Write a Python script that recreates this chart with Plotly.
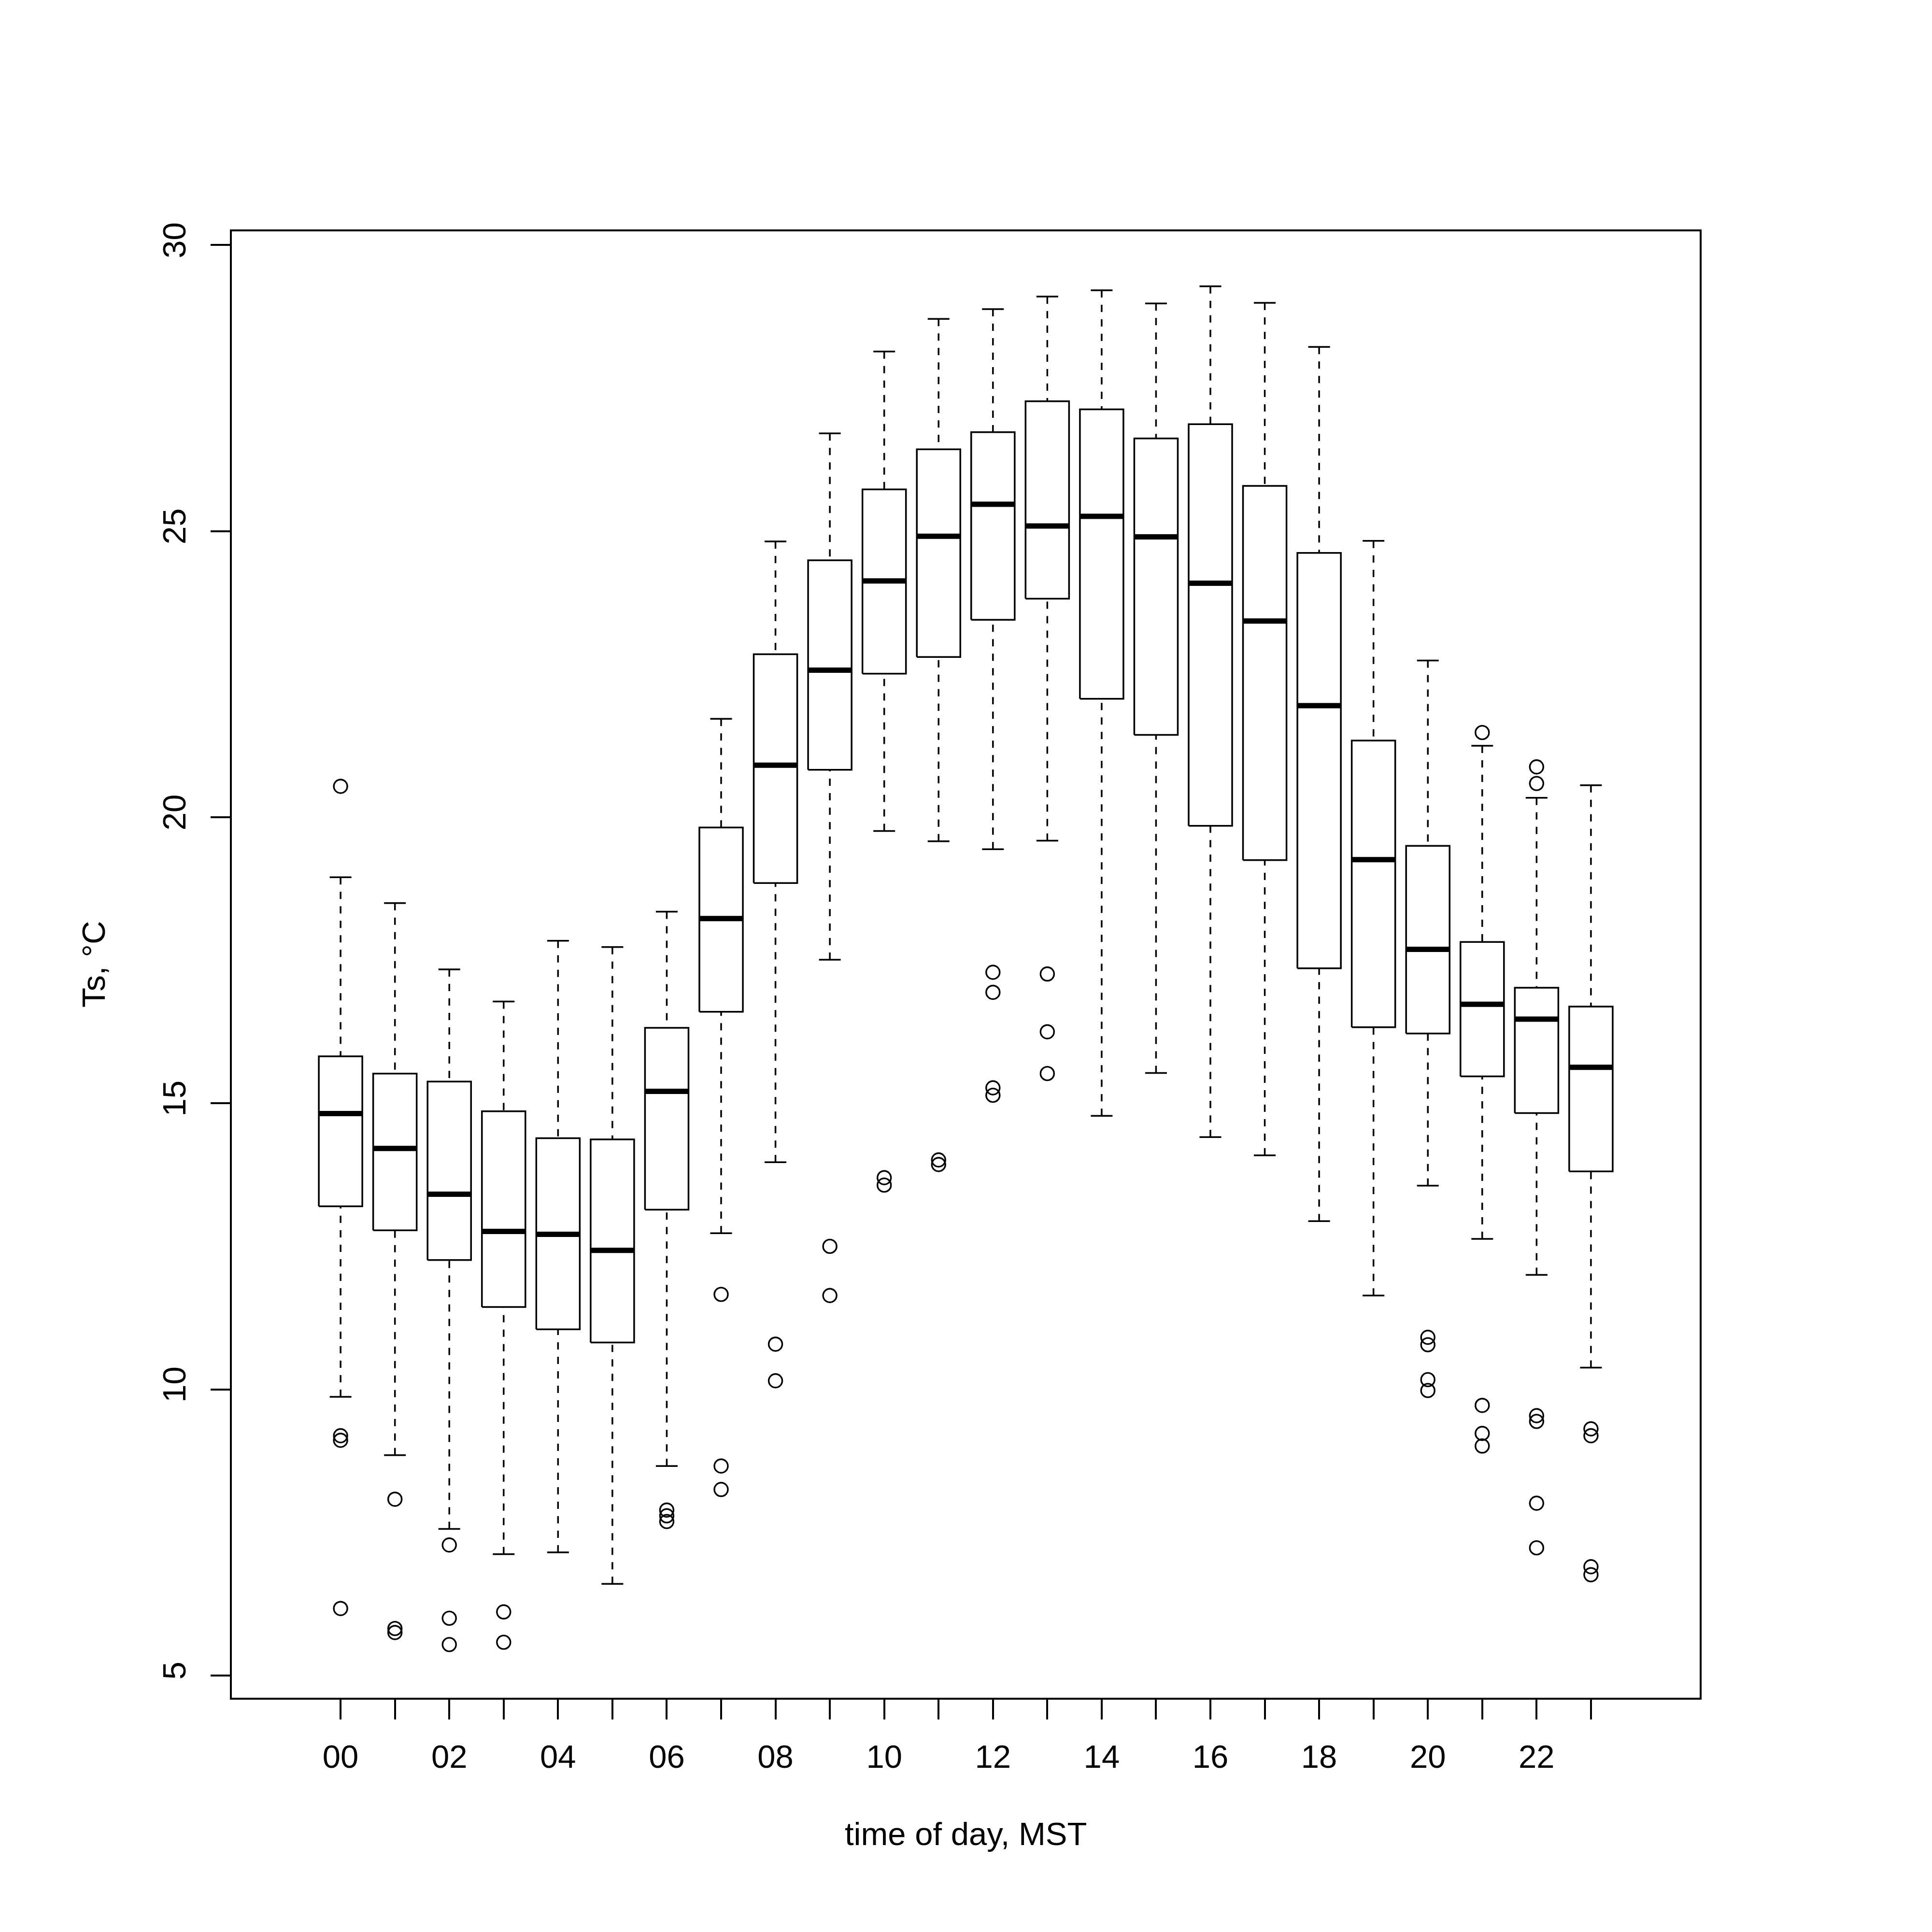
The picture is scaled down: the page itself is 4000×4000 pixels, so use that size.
import plotly.graph_objects as go

hours = ["00", "01", "02", "03", "04", "05", "06", "07", "08", "09", "10", "11",
         "12", "13", "14", "15", "16", "17", "18", "19", "20", "21", "22", "23"]

lower = [9.87, 8.85, 7.56, 7.12, 7.15, 6.60, 8.66, 12.73, 13.97, 17.51, 19.76, 19.58,
         19.44, 19.59, 14.78, 15.53, 14.41, 14.09, 12.94, 11.64, 13.56, 12.63, 12.00, 10.38]
q1 = [13.20, 12.78, 12.26, 11.44, 11.05, 10.82, 13.14, 16.60, 18.85, 20.83, 22.51, 22.80,
      23.45, 23.82, 22.07, 21.44, 19.85, 19.25, 17.36, 16.33, 16.22, 15.47, 14.83, 13.81]
median = [14.82, 14.21, 13.41, 12.76, 12.71, 12.43, 15.21, 18.23, 20.91, 22.57, 24.13, 24.91,
          25.47, 25.09, 25.26, 24.90, 24.09, 23.43, 21.95, 19.26, 17.69, 16.73, 16.47, 15.63]
q3 = [15.82, 15.52, 15.38, 14.86, 14.39, 14.37, 16.32, 19.82, 22.85, 24.49, 25.73, 26.43,
      26.73, 27.27, 27.13, 26.62, 26.87, 25.79, 24.62, 21.34, 19.50, 17.82, 17.02, 16.69]
upper = [18.95, 18.50, 17.34, 16.78, 17.84, 17.73, 18.35, 21.72, 24.82, 26.71, 28.14, 28.71,
         28.88, 29.10, 29.21, 28.98, 29.28, 28.99, 28.22, 24.83, 22.74, 21.25, 20.34, 20.56]
outliers = [
    [20.54, 9.19, 9.11, 6.17],
    [8.08, 5.82, 5.75],
    [7.28, 6.00, 5.54],
    [6.11, 5.58],
    [],
    [],
    [7.89, 7.79, 7.69],
    [11.66, 8.66, 8.25],
    [10.79, 10.15],
    [12.50, 11.64],
    [13.70, 13.57],
    [14.01, 13.93],
    [17.29, 16.94, 15.27, 15.14],
    [17.26, 16.25, 15.52],
    [],
    [],
    [],
    [],
    [],
    [],
    [10.91, 10.78, 10.17, 9.98],
    [21.48, 9.72, 9.23, 9.01],
    [20.88, 20.59, 9.54, 9.44, 8.01, 7.23],
    [9.31, 9.19, 6.90, 6.76],
]

x_title = "time of day, MST"
y_title = "Ts, °C"
y_ticks = [5, 10, 15, 20, 25, 30]

BW = 0.4   # half box width
SW = 0.2   # half staple width
LW = 3.5

box_x, box_y = [], []
wh_x, wh_y = [], []
st_x, st_y = [], []
md_x, md_y = [], []
out_x, out_y = [], []
for i in range(len(hours)):
    box_x += [i - BW, i + BW, i + BW, i - BW, i - BW, None]
    box_y += [q1[i], q1[i], q3[i], q3[i], q1[i], None]
    wh_x += [i, i, None, i, i, None]
    wh_y += [lower[i], q1[i], None, upper[i], q3[i], None]
    st_x += [i - SW, i + SW, None, i - SW, i + SW, None]
    st_y += [lower[i], lower[i], None, upper[i], upper[i], None]
    md_x += [i - BW, i + BW, None]
    md_y += [median[i], median[i], None]
    for v in outliers[i]:
        out_x.append(i)
        out_y.append(v)

fig = go.Figure()
fig.add_trace(go.Scatter(x=wh_x, y=wh_y, mode="lines",
                         line=dict(color="black", width=LW, dash="15px,15px"),
                         hoverinfo="skip", showlegend=False))
fig.add_trace(go.Scatter(x=st_x, y=st_y, mode="lines",
                         line=dict(color="black", width=LW),
                         hoverinfo="skip", showlegend=False))
fig.add_trace(go.Scatter(x=box_x, y=box_y, mode="lines", fill="toself",
                         fillcolor="white",
                         line=dict(color="black", width=LW),
                         hoverinfo="skip", showlegend=False))
fig.add_trace(go.Scatter(x=md_x, y=md_y, mode="lines",
                         line=dict(color="black", width=11),
                         hoverinfo="skip", showlegend=False))
fig.add_trace(go.Scatter(x=out_x, y=out_y, mode="markers",
                         marker=dict(symbol="circle-open", size=28,
                                     line=dict(color="black", width=3.4),
                                     color="black"),
                         showlegend=False))

FONT = "Liberation Sans, Arial, Helvetica, sans-serif"
# page body adds an 8px offset; compensate so the plot frame lands where it should
L, R, T, B = 472, 489, 471, 493

fig.update_layout(
    width=4000, height=4000, autosize=False,
    margin=dict(l=L, r=R, t=T, b=B, pad=0),
    paper_bgcolor="white", plot_bgcolor="white",
    font=dict(family=FONT, size=67, color="black"),
    showlegend=False,
)
fig.update_xaxes(
    range=[-2, 25],
    tickmode="array",
    tickvals=list(range(len(hours))),
    ticktext=[h if i % 2 == 0 else "" for i, h in enumerate(hours)],
    ticks="outside", ticklen=41, tickwidth=4, tickcolor="black",
    showline=True, mirror=True, linecolor="black", linewidth=4,
    showgrid=False, zeroline=False,
    tickfont=dict(family=FONT, size=67, color="black"),
    ticklabelstandoff=20,
)
fig.update_yaxes(
    range=[4.61, 30.24],
    tickmode="array",
    tickvals=y_ticks,
    ticktext=[str(v) for v in y_ticks],
    tickangle=-90,
    ticks="outside", ticklen=40, tickwidth=4, tickcolor="black",
    showline=True, mirror=True, linecolor="black", linewidth=4,
    showgrid=False, zeroline=False,
    tickfont=dict(family=FONT, size=67, color="black"),
    ticklabelstandoff=25,
)

plot_h = 4000 - T - B
plot_w = 4000 - L - R
fig.add_annotation(text=x_title, xref="paper", yref="paper",
                   x=0.5, y=(4000 - B - 3789) / plot_h,
                   xanchor="center", yanchor="middle", showarrow=False,
                   font=dict(family=FONT, size=67, color="black"))
fig.add_annotation(text=y_title, xref="paper", yref="paper",
                   x=(185 - L) / plot_w, y=0.5, textangle=-90,
                   xanchor="center", yanchor="middle", showarrow=False,
                   font=dict(family=FONT, size=67, color="black"))

fig.write_html("out.html")
